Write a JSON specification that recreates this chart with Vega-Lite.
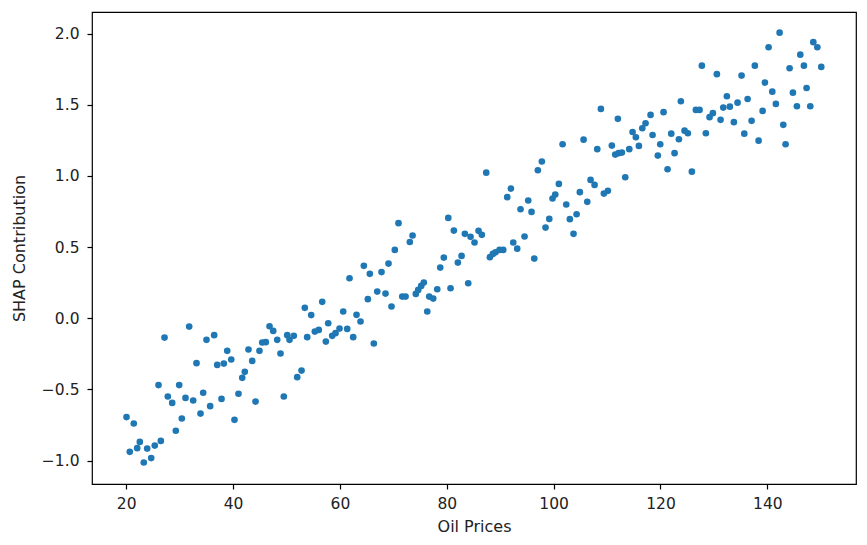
{
  "$schema": "https://vega.github.io/schema/vega-lite/v6.json",
  "width": 764,
  "height": 472,
  "autosize": {"type": "none"},
  "padding": {"left": 92, "top": 12, "right": 11, "bottom": 61},
  "background": "white",
  "config": {
    "view": {"stroke": "black", "strokeWidth": 1.2},
    "axis": {
      "domain": false,
      "grid": false,
      "tickColor": "black",
      "tickSize": 5,
      "tickWidth": 1.2,
      "labelFont": "DejaVu Sans",
      "labelFontSize": 15.5,
      "labelColor": "#222",
      "titleFont": "DejaVu Sans",
      "titleFontSize": 16,
      "titleFontWeight": "normal",
      "titleColor": "#222",
      "labelOverlap": false,
      "labelFlush": false
    }
  },
  "data": {"values": [
    {"oil": 20.06, "shap": -0.695}, {"oil": 21.42, "shap": -0.74}, {"oil": 22.55, "shap": -0.869},
    {"oil": 22.06, "shap": -0.913}, {"oil": 20.67, "shap": -0.939}, {"oil": 23.93, "shap": -0.916},
    {"oil": 23.29, "shap": -1.014}, {"oil": 24.68, "shap": -0.983}, {"oil": 25.35, "shap": -0.895},
    {"oil": 26.48, "shap": -0.862}, {"oil": 27.17, "shap": -0.136}, {"oil": 26.05, "shap": -0.47},
    {"oil": 27.79, "shap": -0.55}, {"oil": 28.61, "shap": -0.595}, {"oil": 29.29, "shap": -0.791},
    {"oil": 30.41, "shap": -0.705}, {"oil": 29.92, "shap": -0.47}, {"oil": 31.1, "shap": -0.56},
    {"oil": 31.79, "shap": -0.059}, {"oil": 32.54, "shap": -0.578}, {"oil": 33.16, "shap": -0.316},
    {"oil": 33.91, "shap": -0.67}, {"oil": 34.41, "shap": -0.524}, {"oil": 35.03, "shap": -0.152},
    {"oil": 35.72, "shap": -0.618}, {"oil": 36.47, "shap": -0.119}, {"oil": 37.04, "shap": -0.328},
    {"oil": 38.27, "shap": -0.319}, {"oil": 38.91, "shap": -0.229}, {"oil": 39.66, "shap": -0.29},
    {"oil": 37.84, "shap": -0.567}, {"oil": 40.27, "shap": -0.714}, {"oil": 41.02, "shap": -0.531},
    {"oil": 41.72, "shap": -0.419}, {"oil": 42.2, "shap": -0.377}, {"oil": 42.89, "shap": -0.22},
    {"oil": 43.59, "shap": -0.3}, {"oil": 44.21, "shap": -0.586}, {"oil": 44.95, "shap": -0.229},
    {"oil": 45.46, "shap": -0.171}, {"oil": 46.13, "shap": -0.168}, {"oil": 46.83, "shap": -0.056},
    {"oil": 47.52, "shap": -0.089}, {"oil": 48.27, "shap": -0.152}, {"oil": 48.88, "shap": -0.248},
    {"oil": 49.5, "shap": -0.55}, {"oil": 50.14, "shap": -0.119}, {"oil": 50.57, "shap": -0.152},
    {"oil": 51.37, "shap": -0.124}, {"oil": 52.01, "shap": -0.414}, {"oil": 52.82, "shap": -0.368},
    {"oil": 53.43, "shap": 0.073}, {"oil": 53.88, "shap": -0.133}, {"oil": 54.63, "shap": 0.022},
    {"oil": 55.31, "shap": -0.094}, {"oil": 56.05, "shap": -0.082}, {"oil": 56.69, "shap": 0.115},
    {"oil": 57.37, "shap": -0.164}, {"oil": 57.81, "shap": -0.035}, {"oil": 58.56, "shap": -0.124},
    {"oil": 59.18, "shap": -0.105}, {"oil": 59.93, "shap": -0.073}, {"oil": 60.62, "shap": 0.047},
    {"oil": 61.37, "shap": -0.075}, {"oil": 61.8, "shap": 0.281}, {"oil": 62.49, "shap": -0.133},
    {"oil": 63.11, "shap": 0.024}, {"oil": 63.86, "shap": -0.023}, {"oil": 64.48, "shap": 0.368},
    {"oil": 65.23, "shap": 0.134}, {"oil": 65.6, "shap": 0.312}, {"oil": 66.35, "shap": -0.178},
    {"oil": 66.99, "shap": 0.187}, {"oil": 67.79, "shap": 0.324}, {"oil": 68.54, "shap": 0.173},
    {"oil": 69.1, "shap": 0.384}, {"oil": 69.66, "shap": 0.082}, {"oil": 70.28, "shap": 0.48},
    {"oil": 70.97, "shap": 0.668}, {"oil": 71.67, "shap": 0.152}, {"oil": 72.29, "shap": 0.152},
    {"oil": 73.09, "shap": 0.536}, {"oil": 73.6, "shap": 0.581}, {"oil": 74.21, "shap": 0.171},
    {"oil": 74.66, "shap": 0.199}, {"oil": 75.22, "shap": 0.227}, {"oil": 75.71, "shap": 0.251},
    {"oil": 76.35, "shap": 0.047}, {"oil": 76.72, "shap": 0.152}, {"oil": 77.47, "shap": 0.138},
    {"oil": 78.22, "shap": 0.204}, {"oil": 78.78, "shap": 0.356}, {"oil": 79.45, "shap": 0.426},
    {"oil": 80.28, "shap": 0.705}, {"oil": 80.71, "shap": 0.211}, {"oil": 81.33, "shap": 0.616},
    {"oil": 82.08, "shap": 0.391}, {"oil": 82.77, "shap": 0.438}, {"oil": 83.39, "shap": 0.593},
    {"oil": 84.02, "shap": 0.246}, {"oil": 84.45, "shap": 0.572}, {"oil": 85.2, "shap": 0.532},
    {"oil": 85.95, "shap": 0.614}, {"oil": 86.57, "shap": 0.586}, {"oil": 87.39, "shap": 1.023},
    {"oil": 88.07, "shap": 0.429}, {"oil": 88.63, "shap": 0.452}, {"oil": 89.13, "shap": 0.464},
    {"oil": 89.88, "shap": 0.48}, {"oil": 90.57, "shap": 0.48}, {"oil": 91.32, "shap": 0.851},
    {"oil": 92.0, "shap": 0.911}, {"oil": 92.45, "shap": 0.532}, {"oil": 93.19, "shap": 0.489},
    {"oil": 93.81, "shap": 0.766}, {"oil": 94.56, "shap": 0.574}, {"oil": 95.25, "shap": 0.827},
    {"oil": 95.87, "shap": 0.747}, {"oil": 96.38, "shap": 0.419}, {"oil": 97.05, "shap": 1.04},
    {"oil": 97.8, "shap": 1.101}, {"oil": 98.49, "shap": 0.637}, {"oil": 99.19, "shap": 0.698},
    {"oil": 99.8, "shap": 0.841}, {"oil": 100.31, "shap": 0.869}, {"oil": 100.98, "shap": 0.944},
    {"oil": 101.68, "shap": 1.223}, {"oil": 102.37, "shap": 0.799}, {"oil": 103.04, "shap": 0.696},
    {"oil": 103.73, "shap": 0.593}, {"oil": 104.3, "shap": 0.731}, {"oil": 104.91, "shap": 0.886},
    {"oil": 105.61, "shap": 1.255}, {"oil": 106.3, "shap": 0.818}, {"oil": 106.92, "shap": 0.972},
    {"oil": 107.67, "shap": 0.937}, {"oil": 108.17, "shap": 1.188}, {"oil": 108.85, "shap": 1.471},
    {"oil": 109.41, "shap": 0.876}, {"oil": 110.16, "shap": 0.895}, {"oil": 110.9, "shap": 1.213},
    {"oil": 111.54, "shap": 1.15}, {"oil": 112.03, "shap": 1.401}, {"oil": 112.16, "shap": 1.16},
    {"oil": 112.78, "shap": 1.164}, {"oil": 113.41, "shap": 0.991}, {"oil": 114.16, "shap": 1.188},
    {"oil": 114.78, "shap": 1.309}, {"oil": 115.4, "shap": 1.272}, {"oil": 115.96, "shap": 1.211},
    {"oil": 116.6, "shap": 1.335}, {"oil": 117.21, "shap": 1.37}, {"oil": 118.52, "shap": 1.288},
    {"oil": 118.15, "shap": 1.429}, {"oil": 119.51, "shap": 1.143}, {"oil": 119.96, "shap": 1.223},
    {"oil": 120.58, "shap": 1.448}, {"oil": 121.33, "shap": 1.047}, {"oil": 122.02, "shap": 1.297},
    {"oil": 122.64, "shap": 1.16}, {"oil": 123.45, "shap": 1.258}, {"oil": 123.82, "shap": 1.525},
    {"oil": 124.51, "shap": 1.318}, {"oil": 125.13, "shap": 1.3}, {"oil": 125.88, "shap": 1.03},
    {"oil": 126.63, "shap": 1.464}, {"oil": 127.32, "shap": 1.464}, {"oil": 127.75, "shap": 1.775},
    {"oil": 128.5, "shap": 1.3}, {"oil": 129.19, "shap": 1.413}, {"oil": 129.81, "shap": 1.441},
    {"oil": 130.56, "shap": 1.715}, {"oil": 131.25, "shap": 1.394}, {"oil": 131.76, "shap": 1.48},
    {"oil": 132.43, "shap": 1.56}, {"oil": 132.99, "shap": 1.487}, {"oil": 133.74, "shap": 1.378},
    {"oil": 134.43, "shap": 1.515}, {"oil": 135.18, "shap": 1.705}, {"oil": 135.69, "shap": 1.297},
    {"oil": 136.31, "shap": 1.541}, {"oil": 137.06, "shap": 1.387}, {"oil": 137.67, "shap": 1.775},
    {"oil": 138.37, "shap": 1.248}, {"oil": 139.12, "shap": 1.457}, {"oil": 139.55, "shap": 1.656},
    {"oil": 140.24, "shap": 1.904}, {"oil": 140.93, "shap": 1.592}, {"oil": 141.6, "shap": 1.506},
    {"oil": 142.3, "shap": 2.007}, {"oil": 142.99, "shap": 1.359}, {"oil": 143.42, "shap": 1.223},
    {"oil": 144.17, "shap": 1.757}, {"oil": 144.79, "shap": 1.585}, {"oil": 145.54, "shap": 1.49},
    {"oil": 146.17, "shap": 1.852}, {"oil": 146.85, "shap": 1.775}, {"oil": 147.35, "shap": 1.618},
    {"oil": 148.04, "shap": 1.49}, {"oil": 148.61, "shap": 1.94}, {"oil": 149.36, "shap": 1.904},
    {"oil": 150.1, "shap": 1.766}
  ]},
  "mark": {"type": "point", "filled": true, "size": 44, "opacity": 1, "color": "#1f77b4", "strokeWidth": 0},
  "encoding": {
    "x": {
      "field": "oil",
      "type": "quantitative",
      "scale": {"domain": [13.6, 156.6], "nice": false, "zero": false},
      "axis": {"title": "Oil Prices", "values": [20, 40, 60, 80, 100, 120, 140], "format": "d", "labelPadding": 7, "titlePadding": 7}
    },
    "y": {
      "field": "shap",
      "type": "quantitative",
      "scale": {"domain": [-1.165, 2.152], "nice": false, "zero": false},
      "axis": {"title": "SHAP Contribution", "values": [-1, -0.5, 0, 0.5, 1, 1.5, 2], "format": ".1f", "labelPadding": 8, "titlePadding": 14}
    }
  }
}
